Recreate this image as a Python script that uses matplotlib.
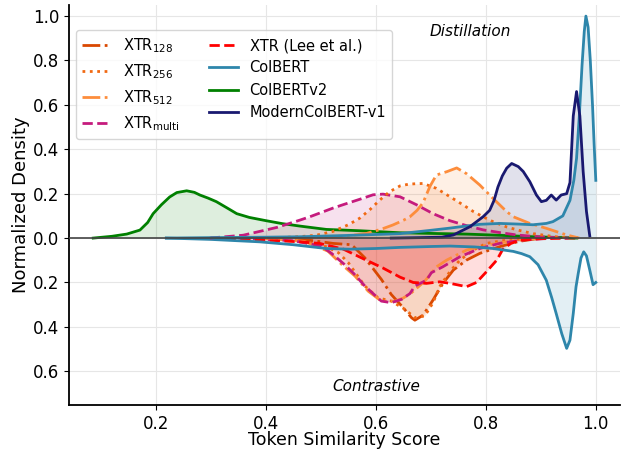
import numpy as np
import matplotlib.pyplot as plt

# colours / styles per model
colors = {
    'xtr128': '#d94801', 'xtr256': '#f16913', 'xtr512': '#fd8d3c',
    'xtrmulti': '#c51b7d', 'xtrlee': '#ff0000', 'colbert': '#2e86ab',
    'colbertv2': '#008000', 'modern': '#191970',
}

# ---- distillation side (plotted above zero) ----
v2_x = [0.086, 0.12, 0.147, 0.171, 0.185, 0.195, 0.21, 0.225, 0.238, 0.256, 0.27, 0.28, 0.295, 0.31,
        0.33, 0.347, 0.37, 0.401, 0.43, 0.462, 0.51, 0.571, 0.644, 0.7, 0.765, 0.83, 0.886, 0.93, 0.965]
v2_y = [0.0, 0.008, 0.018, 0.036, 0.07, 0.11, 0.15, 0.185, 0.205, 0.213, 0.206, 0.194, 0.18, 0.164,
        0.135, 0.11, 0.093, 0.078, 0.065, 0.054, 0.039, 0.033, 0.024, 0.021, 0.018, 0.012, 0.006, 0.003, 0.0]

colbert_top_x = [0.219, 0.3, 0.4, 0.462, 0.55, 0.644, 0.7, 0.735, 0.789, 0.825, 0.86, 0.886, 0.91, 0.922,
                 0.94, 0.953, 0.96, 0.965, 0.97, 0.975, 0.979, 0.982, 0.986, 0.99, 0.994, 0.997, 1.0]
colbert_top_y = [0.0, 0.002, 0.004, 0.006, 0.012, 0.02, 0.035, 0.045, 0.062, 0.066, 0.063, 0.06, 0.066, 0.074,
                 0.1, 0.17, 0.26, 0.36, 0.55, 0.78, 0.93, 1.0, 0.95, 0.8, 0.6, 0.42, 0.26]

modern_x = [0.628, 0.68, 0.72, 0.741, 0.771, 0.795, 0.807, 0.815, 0.822, 0.83, 0.838, 0.847, 0.859, 0.868,
            0.88, 0.892, 0.901, 0.91, 0.919, 0.928, 0.937, 0.947, 0.953, 0.959, 0.965, 0.971, 0.977, 0.983, 0.989]
modern_y = [0.0, 0.002, 0.004, 0.014, 0.051, 0.096, 0.125, 0.17, 0.23, 0.28, 0.315, 0.336, 0.322, 0.3,
            0.254, 0.194, 0.164, 0.17, 0.194, 0.171, 0.194, 0.2, 0.25, 0.55, 0.66, 0.55, 0.3, 0.12, 0.01]

multi_top_x = [0.298, 0.359, 0.42, 0.462, 0.48, 0.522, 0.54, 0.571, 0.595, 0.613, 0.644, 0.674, 0.704,
               0.735, 0.765, 0.795, 0.825, 0.856, 0.9, 0.95]
multi_top_y = [0.0, 0.013, 0.048, 0.081, 0.096, 0.135, 0.15, 0.175, 0.195, 0.198, 0.186, 0.15, 0.11,
               0.078, 0.056, 0.037, 0.025, 0.014, 0.005, 0.0]

x256_top_x = [0.40, 0.46, 0.492, 0.522, 0.55, 0.571, 0.59, 0.607, 0.625, 0.644, 0.66, 0.674, 0.686, 0.71,
              0.735, 0.759, 0.777, 0.795, 0.813, 0.838, 0.86, 0.886, 0.92, 0.95]
x256_top_y = [0.0, 0.006, 0.013, 0.03, 0.06, 0.09, 0.13, 0.171, 0.209, 0.235, 0.243, 0.245, 0.246, 0.224,
              0.186, 0.149, 0.12, 0.096, 0.074, 0.05, 0.035, 0.02, 0.008, 0.0]

x512_top_x = [0.40, 0.5, 0.55, 0.583, 0.61, 0.631, 0.65, 0.662, 0.675, 0.686, 0.698, 0.71, 0.729, 0.747,
              0.765, 0.789, 0.813, 0.838, 0.85, 0.88, 0.91, 0.947, 0.97]
x512_top_y = [0.0, 0.004, 0.01, 0.021, 0.04, 0.059, 0.08, 0.096, 0.125, 0.16, 0.231, 0.284, 0.299, 0.316,
              0.29, 0.239, 0.179, 0.119, 0.096, 0.066, 0.044, 0.014, 0.0]

# ---- contrastive side (plotted below zero) ----
colbert_bot_x = [0.219, 0.3, 0.389, 0.45, 0.51, 0.553, 0.6, 0.644, 0.7, 0.735, 0.78, 0.813, 0.85, 0.865,
                 0.88, 0.895, 0.91, 0.92, 0.928, 0.938, 0.947, 0.953, 0.959, 0.964, 0.968, 0.973, 0.978,
                 0.983, 0.989, 0.995, 1.0]
colbert_bot_y = [0.0, 0.006, 0.017, 0.03, 0.047, 0.05, 0.047, 0.042, 0.038, 0.036, 0.04, 0.047, 0.06, 0.07,
                 0.084, 0.12, 0.19, 0.27, 0.34, 0.43, 0.497, 0.46, 0.34, 0.22, 0.16, 0.09, 0.062,
                 0.08, 0.144, 0.21, 0.2]

lee_x = [0.30, 0.40, 0.462, 0.498, 0.541, 0.583, 0.613, 0.644, 0.668, 0.692, 0.716, 0.735, 0.765, 0.783,
         0.801, 0.82, 0.831, 0.845, 0.862, 0.9, 0.94, 0.97]
lee_y = [0.0, 0.009, 0.017, 0.024, 0.05, 0.1, 0.135, 0.176, 0.2, 0.204, 0.197, 0.204, 0.219, 0.2,
         0.152, 0.099, 0.05, 0.025, 0.009, 0.003, 0.001, 0.0]

x128_x = [0.40, 0.48, 0.522, 0.556, 0.58, 0.61, 0.628, 0.647, 0.665, 0.671, 0.686, 0.704, 0.722, 0.741,
          0.765, 0.789, 0.825, 0.86, 0.9]
x128_y = [0.0, 0.01, 0.024, 0.03, 0.089, 0.186, 0.254, 0.306, 0.359, 0.37, 0.347, 0.279, 0.204, 0.144,
          0.099, 0.069, 0.039, 0.015, 0.0]

x256_bot_x = [0.40, 0.46, 0.51, 0.532, 0.55, 0.565, 0.58, 0.604, 0.628, 0.653, 0.671, 0.689, 0.704, 0.716,
              0.735, 0.753, 0.78, 0.801, 0.84, 0.9]
x256_bot_y = [0.0, 0.01, 0.039, 0.066, 0.111, 0.164, 0.216, 0.269, 0.284, 0.321, 0.359, 0.351, 0.291, 0.219,
              0.15, 0.099, 0.05, 0.024, 0.008, 0.0]

x512_bot_x = [0.40, 0.47, 0.513, 0.538, 0.562, 0.586, 0.61, 0.635, 0.65, 0.665, 0.689, 0.71, 0.729, 0.765,
              0.801, 0.85, 0.9]
x512_bot_y = [0.0, 0.015, 0.059, 0.119, 0.171, 0.239, 0.284, 0.284, 0.27, 0.246, 0.194, 0.13, 0.099, 0.054,
              0.032, 0.012, 0.0]

multi_bot_x = [0.35, 0.45, 0.501, 0.52, 0.543, 0.56, 0.58, 0.61, 0.628, 0.647, 0.662, 0.671, 0.692, 0.701,
               0.722, 0.753, 0.789, 0.825, 0.87, 0.92]
multi_bot_y = [0.0, 0.012, 0.036, 0.07, 0.119, 0.16, 0.216, 0.284, 0.291, 0.276, 0.25, 0.216, 0.19, 0.156,
               0.129, 0.084, 0.047, 0.024, 0.008, 0.0]

fig = plt.figure(figsize=(6.22, 4.5), dpi=100)
ax = fig.add_axes([69 / 622, 45 / 450, 551 / 622, 400 / 450])


def curve(x, y, key, ls, sign=1, label=None):
    x = np.array(x)
    y = sign * np.array(y)
    ax.fill_between(x, 0, y, color=colors[key], alpha=0.13, lw=0)
    ax.plot(x, y, color=colors[key], ls=ls, lw=2, label=label)


# contrastive (below)
curve(x128_x, x128_y, 'xtr128', '-.', -1, r'XTR$_{128}$')
curve(x256_bot_x, x256_bot_y, 'xtr256', ':', -1, r'XTR$_{256}$')
curve(x512_bot_x, x512_bot_y, 'xtr512', '-.', -1, r'XTR$_{512}$')
curve(multi_bot_x, multi_bot_y, 'xtrmulti', '--', -1, r'XTR$_{\mathrm{multi}}$')
curve(lee_x, lee_y, 'xtrlee', '--', -1, 'XTR (Lee et al.)')
curve(colbert_bot_x, colbert_bot_y, 'colbert', '-', -1, 'ColBERT')
# distillation (above)
curve(v2_x, v2_y, 'colbertv2', '-', 1, 'ColBERTv2')
curve(multi_top_x, multi_top_y, 'xtrmulti', '--')
curve(x256_top_x, x256_top_y, 'xtr256', ':')
curve(x512_top_x, x512_top_y, 'xtr512', '-.')
curve(colbert_top_x, colbert_top_y, 'colbert', '-')
curve(modern_x, modern_y, 'modern', '-', 1, 'ModernColBERT-v1')

ax.axhline(0, color='#444444', lw=1.2, zorder=5)

ax.set_xlim(0.042, 1.044)
ax.set_ylim(-0.752, 1.05)
ax.set_yticks(np.arange(-0.6, 1.01, 0.2))
ax.set_yticklabels([f'{abs(t):.1f}' for t in np.arange(-0.6, 1.01, 0.2)])
ax.set_xticks([0.2, 0.4, 0.6, 0.8, 1.0])
ax.tick_params(labelsize=12)
ax.grid(True, color='#e6e6e6', lw=0.8)
ax.set_axisbelow(True)
for s in ['top', 'right']:
    ax.spines[s].set_visible(False)
for s in ['left', 'bottom']:
    ax.spines[s].set_linewidth(1.3)

ax.set_xlabel('Token Similarity Score', fontsize=12.5, labelpad=-1)
ax.set_ylabel('Normalized Density', fontsize=13, labelpad=2)

ax.text(0.771, 0.93, 'Distillation', style='italic', fontsize=11, ha='center', va='center')
ax.text(0.6, -0.67, 'Contrastive', style='italic', fontsize=11, ha='center', va='center')

ax.legend(loc='upper left', bbox_to_anchor=(0.0, 0.955), ncol=2, fontsize=10.5)

fig.savefig('out.png', dpi=100)
